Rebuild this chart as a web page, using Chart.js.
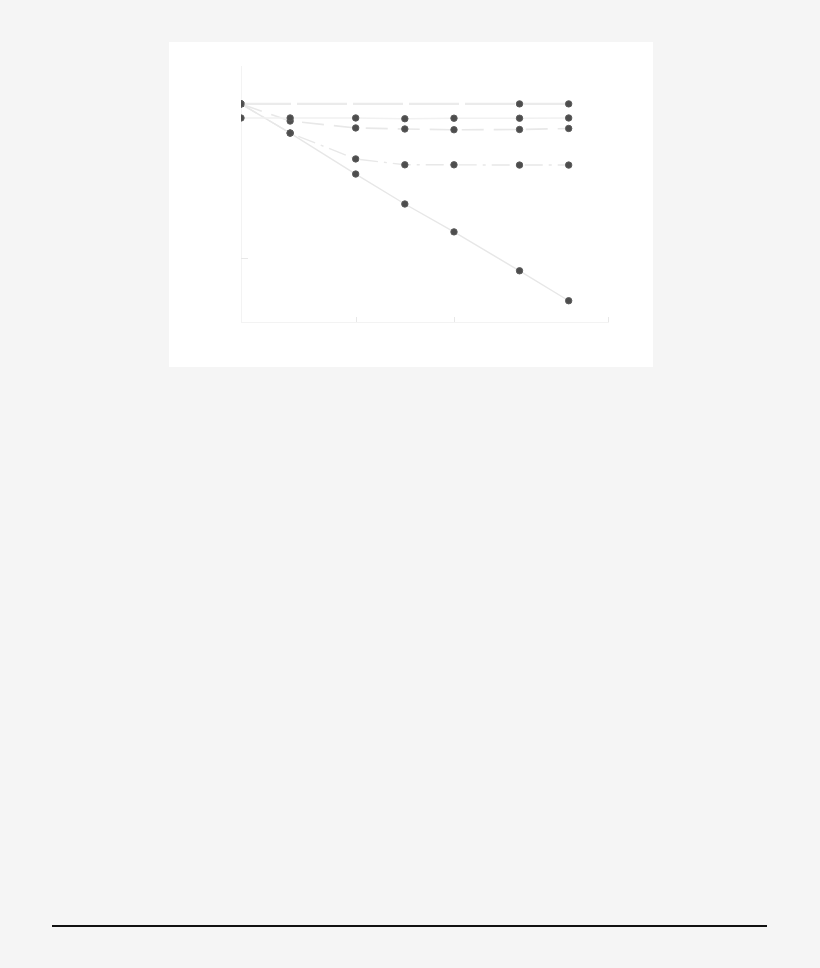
<!DOCTYPE html>
<html>
<head>
<meta charset="utf-8">
<script src="https://cdn.jsdelivr.net/npm/chart.js@4"></script>
<style>
  html, body { margin: 0; padding: 0; background: #f5f5f5; width: 820px; height: 968px; overflow: hidden; }
  #box { position: absolute; left: 169px; top: 42px; width: 484px; height: 325px; background: #ffffff; }
  #rule { position: absolute; left: 52px; top: 925px; width: 715px; height: 2px; background: #111; }
</style>
</head>
<body>
<div id="box"><canvas id="c"></canvas></div>
<div id="rule"></div>
<script>
// Data
const xValues = [0, 3, 7, 10, 13, 17, 20];
const seriesA = [[0, 85.2], [17, 85.2], [20, 85.2]];
const seriesB = [79.7, 79.7, 79.7, 79.4, 79.6, 79.6, 79.7];
const seriesC = [85.2, 78.5, 75.8, 75.4, 75.1, 75.2, 75.6];
const seriesD = [85.2, 73.8, 63.7, 61.4, 61.4, 61.3, 61.3];
const seriesE = [85.2, 73.8, 57.8, 46.1, 35.2, 20.0, 8.3];
const xTicks = [7, 13, 22.4];
const yTicks = [25];
const xMin = 0, xMax = 22.4, yMin = 0, yMax = 100;

const pts = arr => arr.map((v, i) => ({ x: xValues[i], y: v }));
const ptsXY = arr => arr.map(p => ({ x: p[0], y: p[1] }));

const pointStyle = {
  pointRadius: 3.2,
  pointBackgroundColor: '#4d4d4d',
  pointBorderColor: '#5c5c5c',
  pointBorderWidth: 1,
  pointHoverRadius: 3.2,
  tension: 0
};

const innerTicks = {
  id: 'innerTicks',
  afterDraw(chart) {
    const ctx = chart.ctx;
    const xs = chart.scales.x, ys = chart.scales.y;
    ctx.save();
    ctx.strokeStyle = '#e8e8e8';
    ctx.lineWidth = 1;
    xs.ticks.forEach(t => {
      const px = Math.round(xs.getPixelForValue(t.value)) + 0.5;
      ctx.beginPath();
      ctx.moveTo(px, ys.bottom);
      ctx.lineTo(px, ys.bottom - 5);
      ctx.stroke();
    });
    ys.ticks.forEach(t => {
      const py = Math.round(ys.getPixelForValue(t.value)) + 0.5;
      ctx.beginPath();
      ctx.moveTo(xs.left, py);
      ctx.lineTo(xs.left + 7, py);
      ctx.stroke();
    });
    ctx.restore();
  }
};

new Chart(document.getElementById('c'), {
  type: 'line',
  data: {
    datasets: [
      { data: ptsXY(seriesA), borderColor: '#ebebeb', borderWidth: 2.2, borderDash: [50, 6], ...pointStyle },
      { data: pts(seriesB), borderColor: '#f1f1f1', borderWidth: 1.6, ...pointStyle },
      { data: pts(seriesC), borderColor: '#e8e8e8', borderWidth: 1.6, borderDash: [22, 10], ...pointStyle },
      { data: pts(seriesD), borderColor: '#e8e8e8', borderWidth: 1.4, borderDash: [18, 6, 3, 6], ...pointStyle },
      { data: pts(seriesE), borderColor: '#e7e7e7', borderWidth: 1.4, ...pointStyle }
    ]
  },
  options: {
    responsive: true,
    maintainAspectRatio: false,
    animation: false,
    layout: { padding: { left: 72, right: 45, top: 24, bottom: 45 } },
    plugins: { legend: { display: false }, tooltip: { enabled: false } },
    scales: {
      x: {
        type: 'linear', min: xMin, max: xMax,
        afterBuildTicks: s => { s.ticks = xTicks.map(v => ({ value: v })); },
        ticks: { display: false },
        grid: { display: true, drawOnChartArea: false, drawTicks: false },
        border: { display: true, color: '#f3f3f3', width: 1 }
      },
      y: {
        type: 'linear', min: yMin, max: yMax,
        afterBuildTicks: s => { s.ticks = yTicks.map(v => ({ value: v })); },
        ticks: { display: false },
        grid: { display: true, drawOnChartArea: false, drawTicks: false },
        border: { display: true, color: '#f3f3f3', width: 1 }
      }
    }
  },
  plugins: [innerTicks]
});
</script>
</body>
</html>
